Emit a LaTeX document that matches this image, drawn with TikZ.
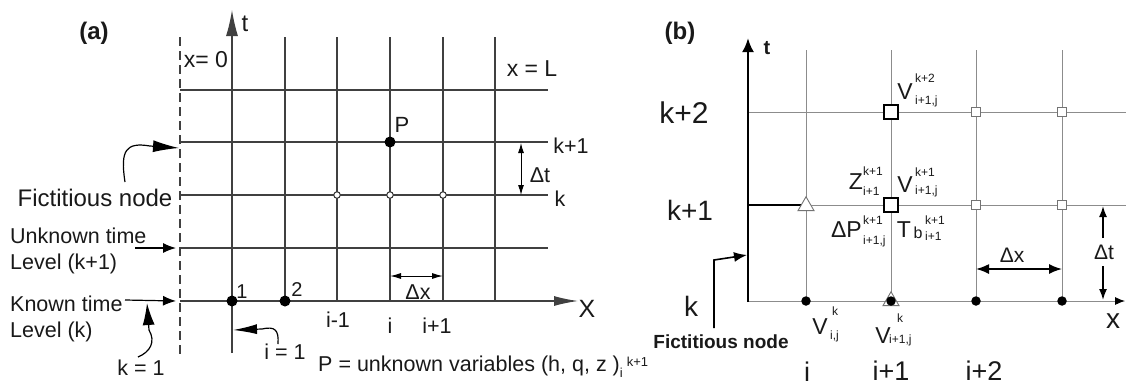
\documentclass[tikz,border=0pt]{standalone}
\usepackage{fontspec}
\setmainfont{Liberation Sans}
\usetikzlibrary{arrows.meta,shapes.geometric}
\newcommand{\fsz}[1]{\fontsize{#1}{#1}\selectfont}
\begin{document}
\begin{tikzpicture}[x=1pt,y=-1pt,
  every node/.style={inner sep=0pt, text=black!90},
  gridA/.style={line width=1.2pt, draw=black!75},
  gridB/.style={line width=0.9pt, draw=black!45},
  arrA/.style={line width=1.2pt, draw=black},
  txt/.style={font=\fsz{21.5}},
  bigtxt/.style={font=\fsz{28}},
  vtxt/.style={font=\fsz{23}},
  scr/.style={font=\fontsize{12}{#1}\selectfont, align=left, anchor=west},
  scr/.default=20,
  smalltxt/.style={font=\fsz{12}},
  dotA/.style={circle, fill=black, minimum size=11pt},
  odotA/.style={circle, draw=black!80, fill=white, line width=1pt, minimum size=6.5pt},
  dotB/.style={circle, fill=black, minimum size=9.5pt},
  bsq/.style={rectangle, draw=black, line width=2.2pt, fill=white, minimum size=14pt},
  ssq/.style={rectangle, draw=black!55, line width=0.9pt, fill=white, minimum size=9pt},
  tri/.style={regular polygon, regular polygon sides=3, draw=black!55, line width=0.9pt, fill=white, minimum size=18.5pt}
]
\useasboundingbox (0,0) rectangle (1126,386);

% ================= Panel (a) =================
\foreach \yy in {90,142,195,248} \draw[gridA] (180,\yy) -- (548,\yy);
\foreach \xx in {285,337,390,443,495} \draw[gridA] (\xx,37) -- (\xx,301);
\draw[gridA, -{Latex[length=24pt,width=10pt]}] (180,301) -- (578,301);
\draw[gridA, -{Latex[length=26pt,width=12pt]}] (232,353) -- (232,10);
\draw[gridA, dash pattern=on 9pt off 5pt] (180,37) -- (180,355);

\node[font=\bfseries\fsz{24}] (la) at (94,33) {(a)};
\node[font=\fsz{24}] (tA) at (245,24) {t};
\node[font=\fsz{23}] (x0) at (206,60) {x= 0};
\node[font=\fsz{23}] (xL) at (532,69) {x = L};
\node[font=\fsz{25}] (XA) at (587,309) {X};
\node[txt] (kp1A) at (571,146) {k+1};
\node[txt] (kA) at (560,199) {k};
\node[txt] (dtA) at (540,175) {Δt};
\node[font=\fsz{22}] (PA) at (402,125) {P};
\node[font=\fsz{20}] (n1) at (242,292) {1};
\node[font=\fsz{20}] (n2) at (297,290) {2};
\node[txt] (im1) at (338,320) {i-1};
\node[txt] (iA) at (390,326) {i};
\node[txt] (ip1A) at (437,326) {i+1};
\node[txt] (dxA) at (418,292) {Δx};
\node[txt] (i1) at (285,352) {i = 1};
\node[txt] (k1) at (141,368) {k = 1};
\node[font=\fsz{24}] (fictA) at (95,198) {Fictitious node};
\node[font=\fontsize{21.5}{26}\selectfont, align=left, anchor=west] (unk) at (10,251) {Unknown time\\Level (k+1)};
\node[font=\fontsize{21.5}{26}\selectfont, align=left, anchor=west] (knw) at (10,319) {Known time\\Level (k)};
\node[txt, anchor=west] (Pdef) at (318,367) {P = unknown variables (h, q, z )\raisebox{-6pt}{\fsz{13}i}\hspace{4pt}\raisebox{5pt}{\fsz{13}k+1}};

\node[dotA] (dP) at (390,142) {};
\node[odotA] (o1) at (337,195) {};
\node[odotA] (o2) at (390,195) {};
\node[odotA] (o3) at (443,195) {};
\node[dotA] (d1) at (232,301) {};
\node[dotA] (d2) at (285,301) {};

\coordinate (fA) at (179,148);
\coordinate (uA) at (176,248);
\coordinate (kAt) at (176,301);
\coordinate (k1t) at (147,303);
\coordinate (i1t) at (233,330);
\draw[arrA, -{Latex[length=26pt,width=12pt]}] (125,182) .. controls (120,150) and (126,142) .. (150,146) -- (fA);
\draw[arrA, -{Latex[length=13pt,width=10pt]}] (135,248) -- (uA);
\draw[arrA, -{Latex[length=13pt,width=10pt]}] (125,300) -- (kAt);
\draw[arrA, -{Latex[length=22pt,width=12pt]}] (138,357) .. controls (150,352) and (156,342) .. (149,330) -- (k1t);
\draw[arrA, -{Latex[length=24pt,width=10pt]}] (278,344) .. controls (279,330) and (275,326) .. (262,329) -- (i1t);
\draw[line width=1pt, {Latex[length=10pt,width=6pt]}-{Latex[length=10pt,width=6pt]}] (521,143) -- (521,195);
\draw[line width=1pt, {Latex[length=11pt,width=6pt]}-{Latex[length=11pt,width=6pt]}] (390,276) -- (443,276);

% ================= Panel (b) =================
\draw[gridB] (748,112) -- (1126,112);
\draw[gridB] (806,205) -- (1126,205);
\foreach \xx in {806,891,976,1062} \draw[gridB] (\xx,50) -- (\xx,301);
\draw[gridB, -{Latex[length=10pt,width=8pt,color=black]}] (748,301) -- (1125,301);
\draw[line width=2pt] (748,205) -- (806,205);
\draw[line width=2.6pt, -{Latex[length=14pt,width=12pt]}] (748,302) -- (748,38);

\node[font=\bfseries\fsz{24}] (lb) at (680,33) {(b)};
\node[font=\bfseries\fsz{20}] (tB) at (767,48) {t};
\node[font=\fsz{30}] (kp2) at (684,113) {k+2};
\node[bigtxt] (kp1) at (690,210) {k+1};
\node[bigtxt] (kB) at (691,306) {k};
\node[font=\bfseries\fsz{19}] (fictB) at (721,342) {Fictitious node};
\node[font=\fsz{27}] (iB) at (807,372) {i};
\node[font=\fsz{27}] (ip1B) at (891,371) {i+1};
\node[font=\fsz{27}] (ip2B) at (984,371) {i+2};
\node[bigtxt] (xB) at (1113,321) {x};
\node[font=\fsz{21}] (dxB) at (1012,255) {Δx};
\node[font=\fsz{21}] (dtB) at (1104,252) {Δt};

\node[tri] (tr1) at (806,206) {};
\node[tri] (tr2) at (891,301) {};
\node[dotB] (b1) at (806,301) {};
\node[dotB] (b2) at (891,301) {};
\node[dotB] (b3) at (976,301) {};
\node[dotB] (b4) at (1062,301) {};
\node[bsq] (s1) at (891,112) {};
\node[bsq] (s2) at (891,205) {};
\node[ssq] (s3) at (976,112) {};
\node[ssq] (s4) at (1062,112) {};
\node[ssq] (s5) at (976,205) {};
\node[ssq] (s6) at (1062,205) {};

\node[vtxt] (Vk2) at (905,92) {V};
\node[scr=22] (Vk2s) at (915,90) {k+2\\i+1,j};
\node[vtxt] (Zl) at (856,182) {Z};
\node[scr=20] (Zs) at (863,181) {k+1\\i+1};
\node[vtxt] (Vk1) at (905,185) {V};
\node[scr=18] (Vk1s) at (915,182) {k+1\\i+1,j};
\node[vtxt, anchor=east] (dPl) at (862,230) {ΔP};
\node[scr=20] (dPs) at (863,231) {k+1\\i+1,j};
\node[vtxt] (Tl) at (904,230) {T};
\node[font=\fsz{16}] (Tlb) at (918,233) {b};
\node[scr=16] (Tls) at (925,228) {k+1\\i+1};
\node[vtxt] (Vkij) at (820,327) {V};
\node[smalltxt] (Vkij1) at (835,311) {k};
\node[smalltxt, anchor=west] (Vkij2) at (830,336) {i,j};
\node[vtxt] (Vk1j) at (883,336) {V};
\node[smalltxt] (Vk1j1) at (900,318) {k};
\node[smalltxt, anchor=west] (Vk1j2) at (889,340) {i+1,j};

\coordinate (fB) at (747,255);
\draw[line width=1.6pt, -{Latex[length=13pt,width=10pt]}] (714,328) -- (714,260) -- (fB);
\draw[line width=1.6pt, {Latex[length=13pt,width=10pt]}-{Latex[length=13pt,width=10pt]}] (976,269) -- (1062,269);
\coordinate (dtT) at (1103,206);
\coordinate (dtD) at (1103,300);
\draw[line width=1.6pt, -{Latex[length=11pt,width=8pt]}] (1103,238) -- (dtT);
\draw[line width=1.6pt, -{Latex[length=11pt,width=8pt]}] (1103,266) -- (dtD);
\end{tikzpicture}
\end{document}
